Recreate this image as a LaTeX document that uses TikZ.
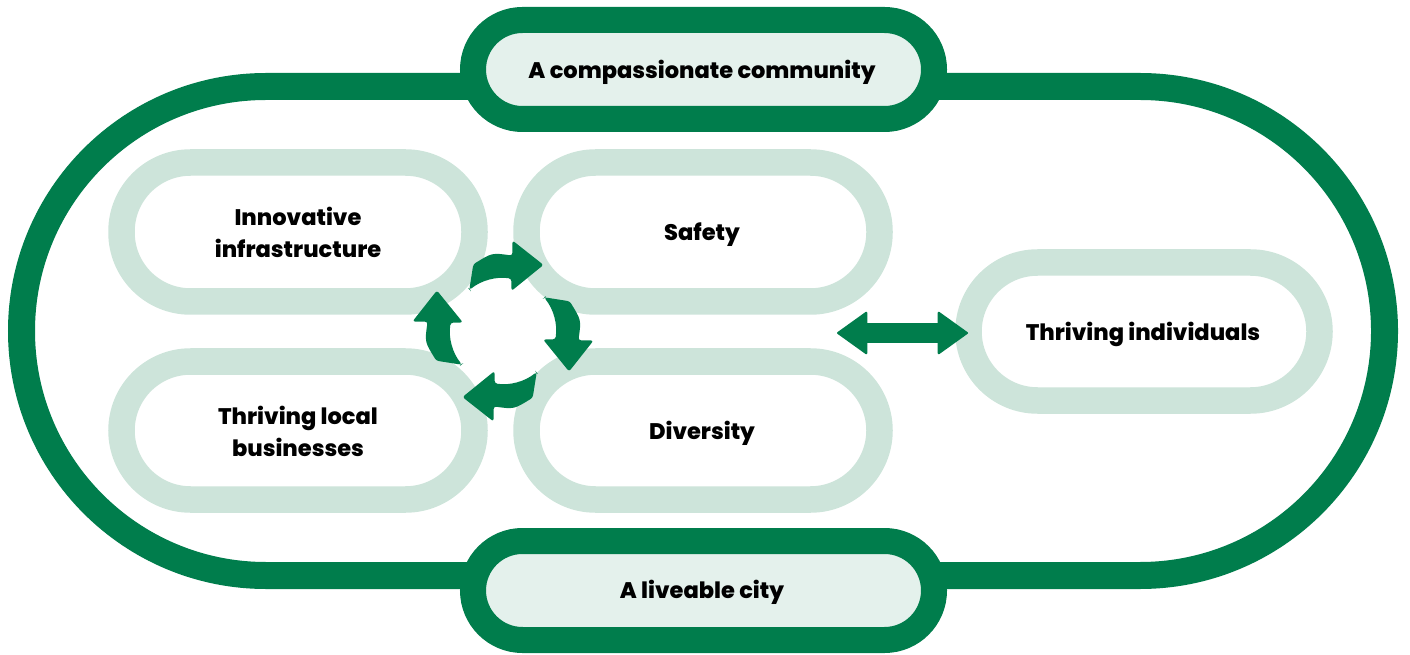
\documentclass[tikz,border=0pt]{standalone}
\usepackage{fontspec}
\setmainfont{Poppins}[BoldFont={Poppins ExtraBold}]
\usetikzlibrary{arrows.meta}
\definecolor{dkgreen}{RGB}{0,125,76}
\definecolor{ltstroke}{RGB}{205,228,218}
\definecolor{lblfill}{RGB}{228,241,236}
\begin{document}
\begin{tikzpicture}[x=1pt,y=1pt,
  txt/.style={font=\fontsize{22.5}{32}\selectfont\bfseries, align=center, text=black, inner sep=0pt},
  outerring/.style={draw=dkgreen, line width=27pt},
  labelpill/.style={draw=dkgreen, fill=lblfill, line width=26pt, rounded corners=49.5pt},
  lightpill/.style={draw=ltstroke, fill=white, line width=26.5pt, rounded corners=69pt},
  cyclearrow/.style={fill=dkgreen}
]
\useasboundingbox (0,0) rectangle (1410,654);
% outer stadium
\draw[outerring, rounded corners=244.5pt] (21.5,78.5) rectangle (1384.5,567.5);
% label pills
\draw[labelpill] (473,535) rectangle (934,634);
\draw[labelpill] (473,14) rectangle (934,113);
% light pills
\draw[lightpill] (121.5,352.5) rectangle (474.5,491.5);
\draw[lightpill] (526.5,352.5) rectangle (879.5,491.5);
\draw[lightpill] (121.5,154.5) rectangle (474.5,292.5);
\draw[lightpill] (526.5,154.5) rectangle (879.5,292.5);
\draw[lightpill] (968.5,253.5) rectangle (1319.5,391.5);
% texts
\node[txt] (top) at (702,581.5) {A compassionate community};
\node[txt] (bottom) at (702,61.5) {A liveable city};
\node[txt] (innov) at (298,421.5) {Innovative\\infrastructure};
\node[txt] (safety) at (702,419.5) {Safety};
\node[txt] (local) at (298,222.5) {Thriving local\\businesses};
\node[txt] (diversity) at (702,220.5) {Diversity};
\node[txt] (indiv) at (1143,319.5) {Thriving individuals};
% cycle arrows
\coordinate (cyc) at (503,323);
\foreach \r in {0,-90,-180,-270}{
  \begin{scope}[shift={(cyc)}, rotate=\r]
    \fill[cyclearrow, rounded corners=2.5pt] (129:53.5) -- (114:73)
      .. controls (98:79) .. (83:76) -- (84:91) -- (58.5:77.5)
      -- (78:41) -- (81:53) arc[start angle=81, end angle=129, radius=53] -- cycle;
  \end{scope}
}
% double arrow
\coordinate (dl) at (837,321);
\coordinate (dr) at (968,321);
\draw[draw=dkgreen, line width=20pt,
  {Triangle[length=31pt,width=44pt,line width=2pt,round]}-{Triangle[length=31pt,width=44pt,line width=2pt,round]}]
  (dl) -- (dr);
\end{tikzpicture}
\end{document}
